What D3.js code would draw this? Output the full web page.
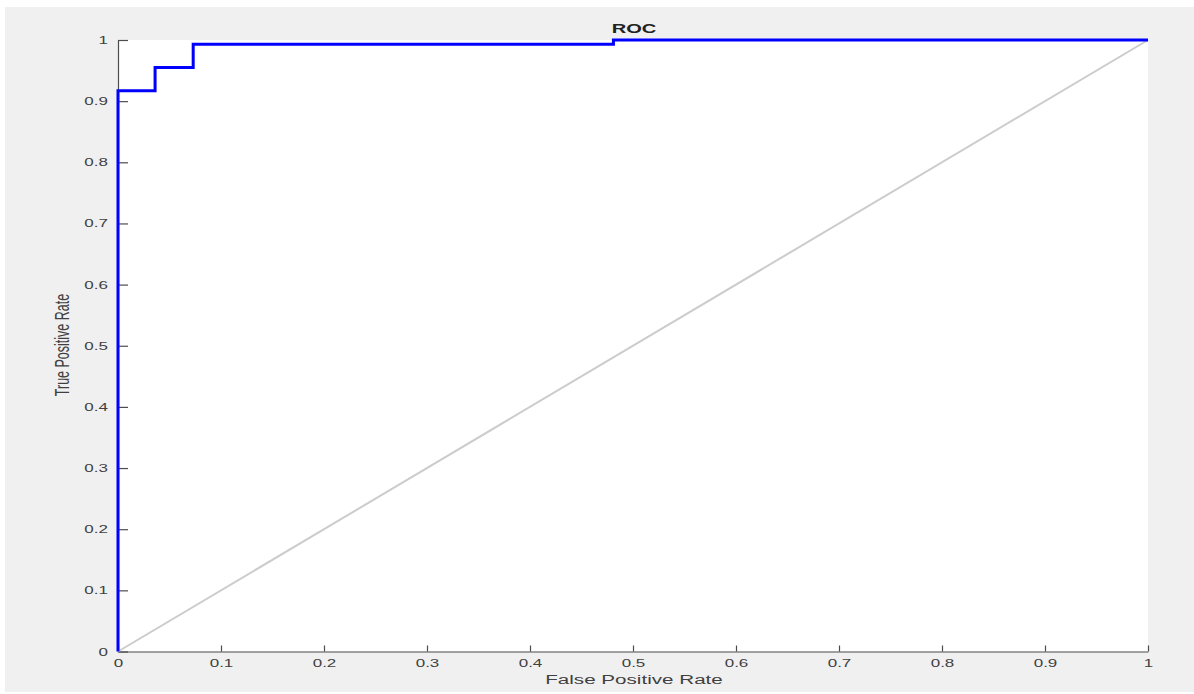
<!DOCTYPE html>
<html lang="en">
<head>
    <meta charset="UTF-8">
    <title>ROC</title>
    <script src="https://d3js.org/d3.v7.min.js"></script>
    <style>
        body { margin: 0; background: #fff; font-family: "Liberation Sans", Arial, sans-serif; }
        svg { display: block; }
        .axis path, .axis line { stroke: #4d4d4d; stroke-width: 1.2; }
        .axis text { fill: #404040; font-size: 10px; }
    </style>
</head>
<body>
    <svg width="1194" height="694"></svg>

    <script>
        // ROC curve points
        const fpr = [0, 0, 0.036, 0.036, 0.073, 0.073, 0.481, 0.481, 1];
        const tpr = [0, 0.917, 0.917, 0.955, 0.955, 0.993, 0.993, 1, 1];
        // chance line
        const chanceX = [0, 1];
        const chanceY = [0, 1];
        const tickValues = [0, 0.1, 0.2, 0.3, 0.4, 0.5, 0.6, 0.7, 0.8, 0.9, 1];

        const svg = d3.select("svg");
        const sx = 1.7; // horizontal stretch of the text in the picture

        const x = d3.scaleLinear().domain([0, 1]).range([118, 1148]);
        const y = d3.scaleLinear().domain([0, 1]).range([651.5, 40]);

        // figure background
        svg.append("rect")
            .attr("x", 5).attr("y", 7)
            .attr("width", 1189).attr("height", 685)
            .attr("fill", "#f0f0f0");

        // plot area
        svg.append("rect")
            .attr("x", x(0)).attr("y", y(1))
            .attr("width", x(1) - x(0)).attr("height", y(0) - y(1))
            .attr("fill", "#fff");

        const fmt = d3.format("~g");

        const xAxis = svg.append("g")
            .attr("class", "axis")
            .attr("transform", `translate(0,${y(0)})`)
            .call(d3.axisBottom(x).tickValues(tickValues).tickFormat(fmt).tickSizeInner(-6).tickSizeOuter(0));
        xAxis.selectAll("text")
            .attr("y", 15.5).attr("dy", 0)
            .attr("transform", `scale(${sx},1)`);

        const yAxis = svg.append("g")
            .attr("class", "axis")
            .attr("transform", `translate(${x(0)},0)`)
            .call(d3.axisLeft(y).tickValues(tickValues).tickFormat(fmt).tickSizeInner(-10).tickSizeOuter(0));
        yAxis.selectAll("text")
            .attr("x", -10 / sx)
            .attr("dy", "0.35em")
            .attr("transform", `scale(${sx},1)`);

        // chance diagonal
        const chance = chanceX.map((d, i) => [d, chanceY[i]]);
        svg.append("path")
            .datum(chance)
            .attr("d", d3.line().x(d => x(d[0])).y(d => y(d[1])))
            .attr("fill", "none")
            .attr("stroke", "#cccccc")
            .attr("stroke-width", 2);

        // ROC curve
        const roc = fpr.map((d, i) => [d, tpr[i]]);
        svg.append("path")
            .datum(roc)
            .attr("d", d3.line().x(d => x(d[0])).y(d => y(d[1])))
            .attr("fill", "none")
            .attr("stroke", "#0000ff")
            .attr("stroke-width", 3);

        // title and axis labels
        svg.append("text")
            .attr("transform", `translate(634,32.5) scale(1.55,1)`)
            .attr("text-anchor", "middle")
            .attr("font-size", 13)
            .attr("font-weight", "bold")
            .attr("fill", "#222")
            .text("ROC");

        svg.append("text")
            .attr("transform", `translate(634,684) scale(1.65,1)`)
            .attr("text-anchor", "middle")
            .attr("font-size", 12.5)
            .attr("fill", "#404040")
            .text("False Positive Rate");

        svg.append("text")
            .attr("transform", `translate(69,345) scale(1.65,1) rotate(-90)`)
            .attr("text-anchor", "middle")
            .attr("font-size", 12.5)
            .attr("fill", "#404040")
            .text("True Positive Rate");
    </script>
</body>
</html>
